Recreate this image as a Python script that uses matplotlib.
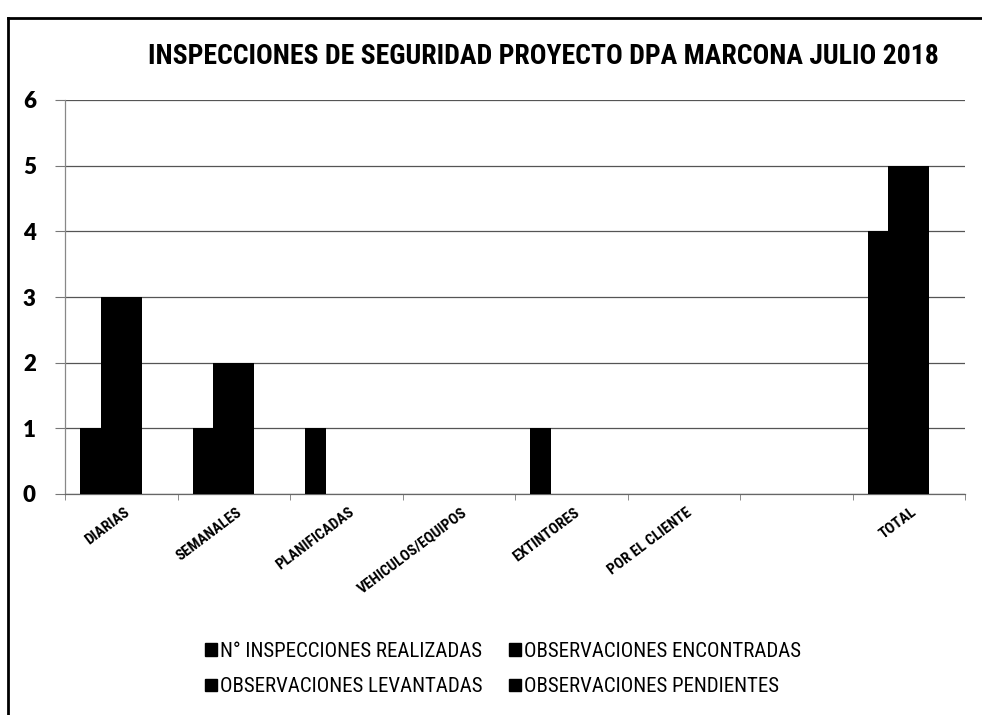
import matplotlib
matplotlib.use("Agg")
import matplotlib.pyplot as plt
from matplotlib import font_manager as fm
from matplotlib.patches import Patch
from matplotlib.lines import Line2D
import numpy as np

# ---- data -------------------------------------------------------------
categories = ["DIARIAS", "SEMANALES", "PLANIFICADAS", "VEHICULOS/EQUIPOS",
              "EXTINTORES", "POR EL CLIENTE", "", "TOTAL"]
series_names = ["N° INSPECCIONES REALIZADAS", "OBSERVACIONES ENCONTRADAS",
                "OBSERVACIONES LEVANTADAS", "OBSERVACIONES PENDIENTES"]
realizadas = [1, 1, 1, 0, 1, 0, 0, 4]
encontradas = [3, 2, 0, 0, 0, 0, 0, 5]
levantadas = [3, 2, 0, 0, 0, 0, 0, 5]
pendientes = [0, 0, 0, 0, 0, 0, 0, 0]
y_ticks = [0, 1, 2, 3, 4, 5, 6]
title = "INSPECCIONES DE SEGURIDAD PROYECTO DPA MARCONA JULIO 2018"


def pick_font(names, weight="normal", stretch="normal"):
    for n in names:
        try:
            fm.findfont(fm.FontProperties(family=n, weight=weight, stretch=stretch),
                        fallback_to_default=False)
            return n
        except Exception:
            continue
    return "DejaVu Sans"


narrow = pick_font(["Liberation Sans Narrow", "Roboto Condensed",
                    "Open Sans Condensed", "DejaVu Sans"], "bold", "condensed")
narrow_reg = pick_font(["Liberation Sans Narrow", "Roboto Condensed",
                        "Open Sans Condensed", "DejaVu Sans"], "normal", "condensed")

W, H = 982, 715
fig = plt.figure(figsize=(W / 100, H / 100), dpi=100)
fig.patch.set_facecolor("white")

left, right, bottom, top = 65, 965, 494, 100
ax = fig.add_axes([left / W, 1 - bottom / H, (right - left) / W, (bottom - top) / H])

x = np.arange(len(categories))
bw = 0.182
all_series = [realizadas, encontradas, levantadas, pendientes]
for i, vals in enumerate(all_series):
    ax.bar(x + (i - 1.5) * bw, vals, width=bw, color="black",
           edgecolor="black", linewidth=0, zorder=3, label=series_names[i])

ax.set_xlim(-0.5, len(categories) - 0.5)
ax.set_ylim(0, 6)
ax.set_yticks(y_ticks)
ax.set_yticklabels([str(v) for v in y_ticks], fontsize=16,
                   fontweight="heavy", family="Lato")
ax.yaxis.grid(True, color="#555555", linewidth=0.9, zorder=0)
ax.tick_params(axis="y", length=7, color="#777777", pad=14)

ax.set_xticks(x)
ax.set_xticklabels([])
ax.set_xticks(np.arange(-0.5, len(categories)), minor=True)
ax.tick_params(axis="x", which="major", length=0)
ax.tick_params(axis="x", which="minor", length=4, color="#777777")
for xi, lab in zip(x, categories):
    ax.text(xi + 0.02, -0.17, lab, rotation=37, rotation_mode="anchor",
            ha="right", va="top", fontsize=11, fontweight="bold",
            family=narrow, fontstretch="condensed",
            transform=ax.transData, clip_on=False)

for s in ["top", "right"]:
    ax.spines[s].set_visible(False)
ax.spines["left"].set_color("#888888")
ax.spines["left"].set_linestyle((0, (2, 1)))
ax.spines["left"].set_linewidth(0.9)
ax.spines["bottom"].set_color("#666666")
ax.spines["bottom"].set_linewidth(0.9)

fig.text(543 / W, 1 - 56 / H, title, ha="center", va="center",
         fontsize=20, fontweight="bold", family=narrow, fontstretch="condensed")

# legend laid out row by row: two entries per row
order = [0, 2, 1, 3]
handles = [Patch(facecolor="black", edgecolor="black") for _ in series_names]
fig.legend([handles[i] for i in order], [series_names[i] for i in order],
           loc="center", ncol=2,
           bbox_to_anchor=(503 / W, 1 - 669 / H), frameon=False,
           prop=dict(family=narrow_reg, size=15, stretch="condensed"),
           handlelength=0.55, handleheight=0.55, handletextpad=0.15,
           columnspacing=1.3, labelspacing=0.8)

# page frame (left and top edges)
fig.add_artist(Line2D([8 / W, 8 / W], [0, 1 - 18 / H], color="black", linewidth=2))
fig.add_artist(Line2D([8 / W, 1], [1 - 18 / H, 1 - 18 / H], color="black", linewidth=2))

fig.savefig("out.png", dpi=100, facecolor="white")
